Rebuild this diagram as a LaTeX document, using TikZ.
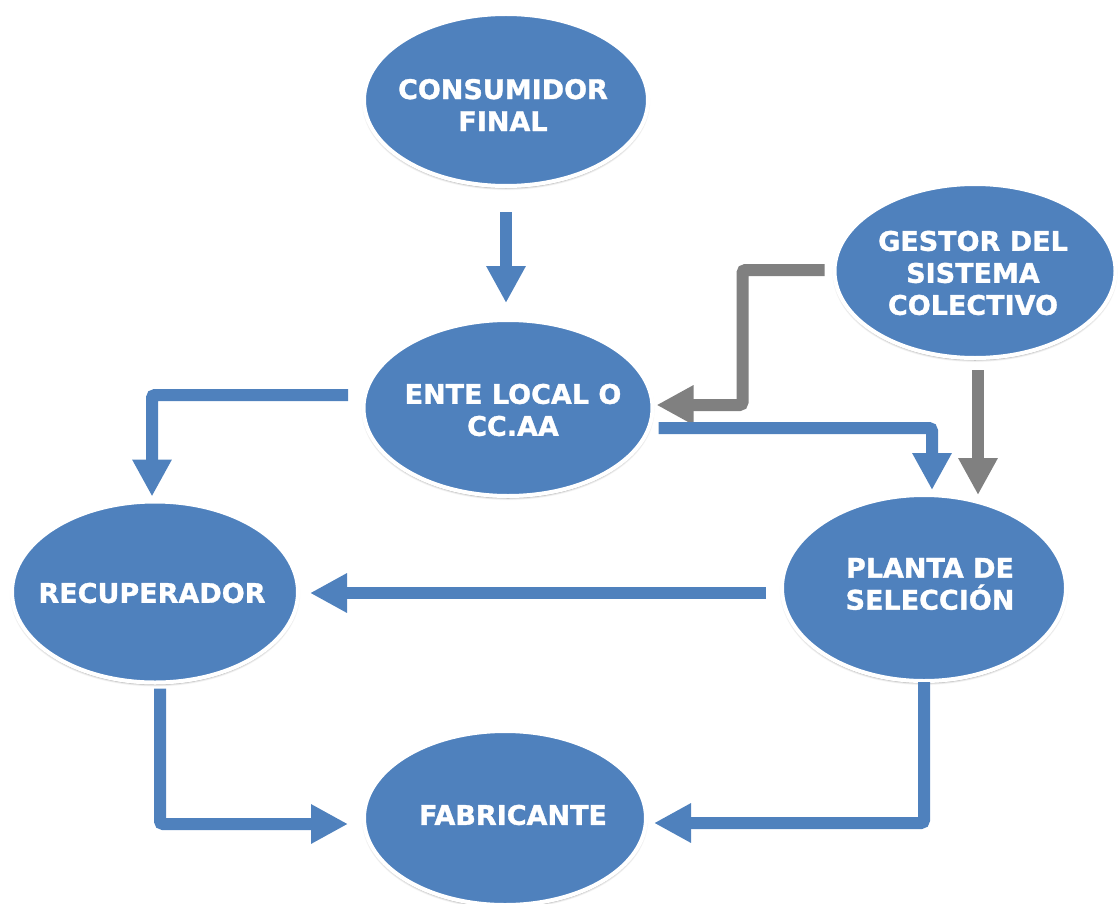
\documentclass[tikz,border=0pt]{standalone}
\usepackage{fontspec}
\setmainfont[BoldFeatures={FakeBold=1.2}]{DejaVu Sans}
\usetikzlibrary{arrows.meta,calc,shapes.geometric,shadows.blur}
\definecolor{nodeblue}{RGB}{79,129,189}
\definecolor{linkgray}{RGB}{128,128,128}
\begin{document}
\begin{tikzpicture}[x=1pt,y=-1pt,
  entity/.style={ellipse, fill=nodeblue, draw=white, line width=4pt, inner sep=0pt,
    blur shadow={shadow blur steps=6, shadow xshift=0pt, shadow yshift=-2pt, shadow opacity=40}},
  lbl/.style={text=white, align=center, inner sep=0pt,
    font=\bfseries\fontsize{27}{32}\selectfont},
  flow/.style={line width=12pt, rounded corners=3pt,
    -{Triangle[width=37pt,length=37pt]}},
  blueflow/.style={flow, draw=nodeblue},
  grayflow/.style={flow, draw=linkgray},
]
\useasboundingbox (0,0) rectangle (1118,904);

% entities
\node[entity, minimum width=284pt, minimum height=172pt] (cons)   at (506,100) {};
\node[entity, minimum width=281pt, minimum height=174pt] (gestor) at (975,271) {};
\node[entity, minimum width=289pt, minimum height=176pt] (ente)   at (508,408) {};
\node[entity, minimum width=286pt, minimum height=181pt] (recup)  at (155,592) {};
\node[entity, minimum width=284pt, minimum height=186pt] (planta) at (924,588) {};
\node[entity, minimum width=282pt, minimum height=174pt] (fabr)   at (505,818) {};

% labels
\node[lbl] (cons-t)   at (503,105) {CONSUMIDOR\\FINAL};
\node[lbl] (gestor-t) at (973,273) {GESTOR DEL\\SISTEMA\\COLECTIVO};
\node[lbl] (ente-t)   at (513,410) {ENTE LOCAL O\\CC.AA};
\node[lbl] (recup-t)  at (152,593) {RECUPERADOR};
\node[lbl] (planta-t) at (930,584) {PLANTA DE\\SELECCIÓN};
\node[lbl] (fabr-t)   at (513,815) {FABRICANTE};

% flows
\draw[blueflow, shorten <=24pt, shorten >=15pt] (cons.south) -- (cons.south |- ente.north);
\draw[grayflow] ($(gestor.west)+(-8,-1)$) -| ($(ente.east)+(88,-3)$) -- ($(ente.east)+(2,-3)$);
\draw[grayflow] ($(gestor.south)+(3,10)$) -- ($(planta.north)+(54,2)$);
\draw[blueflow] ($(ente.east)+(4,20)$) -| ($(planta.north)+(8,-3)$);
\draw[blueflow] ($(ente.west)+(-13.5,-13)$) -| ($(recup.north)+(-3,-3)$);
\draw[blueflow] ($(planta.west)+(-14,5)$) -- ($(recup.east)+(10,1)$);
\draw[blueflow] ($(recup.south)+(5,4)$) |- ($(fabr.west)+(-14,6)$);
\draw[blueflow] ($(planta.south)+(0,-1)$) |- ($(fabr.east)+(6,5)$);
\end{tikzpicture}
\end{document}
